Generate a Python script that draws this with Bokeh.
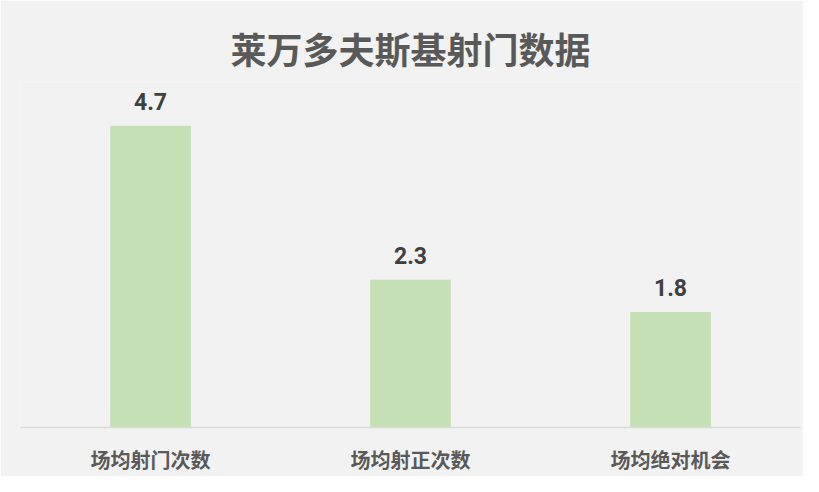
from bokeh.plotting import figure
from bokeh.models import ColumnDataSource, Range1d, LabelSet
from bokeh.core.properties import value
from bokeh.embed import file_html
from bokeh.resources import INLINE

categories = ["场均射门次数", "场均射正次数", "场均绝对机会"]
values = [4.7, 2.3, 1.8]
labels = ["4.7", "2.3", "1.8"]

source = ColumnDataSource(data=dict(cat=categories, val=values, lab=labels))

p = figure(x_range=categories, y_range=Range1d(0, 5.39),
           width=803, height=476, output_backend="svg", toolbar_location=None,
           title="莱万多夫斯基射门数据",
           min_border_left=20, min_border_right=3, min_border_top=81, min_border_bottom=40)

p.background_fill_color = "#f2f2f2"
p.border_fill_color = "#f2f2f2"
p.outline_line_color = None

p.title.align = "center"
p.title.text_font = "Noto Sans CJK SC"
p.title.text_font_size = "36px"
p.title.text_font_style = "bold"
p.title.text_color = "#595959"
p.title.offset = 0
p.title.standoff = 15

p.vbar(x="cat", top="val", width=0.31, source=source, color="#c5e0b4", line_color=None)

# value labels above bars
values_text = LabelSet(x="cat", y="val", text="lab", source=source,
                       text_align="center", text_baseline="bottom", y_offset=16,
                       text_font=value("Roboto"), text_font_size="23px",
                       text_font_style="bold", text_color="#404040")
p.add_layout(values_text)

p.x_range.range_padding = 0
p.yaxis.visible = False
p.xgrid.visible = False
p.ygrid.visible = False
p.xaxis.axis_line_color = "#d9d9d9"
p.xaxis.axis_line_width = 1.5
p.xaxis.major_tick_line_color = None
p.xaxis.minor_tick_line_color = None
p.xaxis.major_label_standoff = 11
p.xaxis.major_label_text_font = "Noto Sans CJK SC"
p.xaxis.major_label_text_font_size = "20px"
p.xaxis.major_label_text_font_style = "bold"
p.xaxis.major_label_text_color = "#595959"

open("out.html", "w").write(file_html(p, INLINE))
